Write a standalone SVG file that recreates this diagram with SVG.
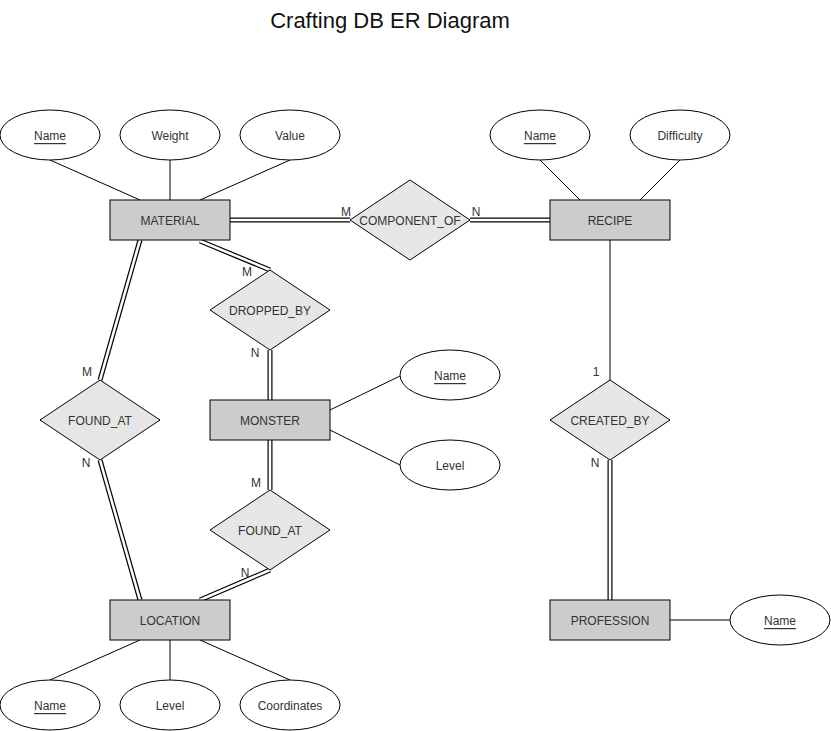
<svg xmlns="http://www.w3.org/2000/svg" width="831" height="731" viewBox="0 0 831 731">
<style>
text{font-family:"Liberation Sans",Arial,sans-serif;font-size:12px;fill:#333;text-anchor:middle;dominant-baseline:central;transform:translateY(1px)}
.ent{fill:#ccc;stroke:#000;stroke-width:1}
.rel{fill:#e6e6e6;stroke:#000;stroke-width:1}
.att{fill:#fff;stroke:#000;stroke-width:1}
.ln{fill:none;stroke:#000;stroke-width:1}
.dblo{fill:none;stroke:#000;stroke-width:5}
.dbli{fill:none;stroke:#fff;stroke-width:2.6}
.card{font-size:12px;fill:#333}
.key{text-decoration:underline}
.title{font-size:22px;fill:#111}
</style>
<rect width="831" height="731" fill="#fff"/>
<text class="title" x="390" y="19">Crafting DB ER Diagram</text>
<g id="connectors">
<line class="ln" x1="50" y1="160" x2="140" y2="200"/>
<line class="ln" x1="170" y1="160" x2="170" y2="200"/>
<line class="ln" x1="290" y1="160" x2="200" y2="200"/>
<line class="ln" x1="540" y1="160" x2="580" y2="200"/>
<line class="ln" x1="680" y1="160" x2="640" y2="200"/>
<line class="ln" x1="330" y1="410" x2="400" y2="376"/>
<line class="ln" x1="330" y1="430" x2="400" y2="465"/>
<line class="ln" x1="140" y1="640" x2="50" y2="680"/>
<line class="ln" x1="170" y1="640" x2="170" y2="680"/>
<line class="ln" x1="200" y1="640" x2="290" y2="680"/>
<line class="ln" x1="670" y1="620" x2="730" y2="620"/>
<line class="ln" x1="610" y1="240" x2="610" y2="380"/>
<g id="d1"><line class="dblo" x1="230" y1="220" x2="350" y2="220"/><line class="dbli" x1="230" y1="220" x2="350" y2="220"/></g>
<g id="d2"><line class="dblo" x1="470" y1="220" x2="550" y2="220"/><line class="dbli" x1="470" y1="220" x2="550" y2="220"/></g>
<g id="d3"><line class="dblo" x1="200" y1="241" x2="270" y2="270"/><line class="dbli" x1="200" y1="241" x2="270" y2="270"/></g>
<g id="d4"><line class="dblo" x1="270" y1="350" x2="270" y2="400"/><line class="dbli" x1="270" y1="350" x2="270" y2="400"/></g>
<g id="d5"><line class="dblo" x1="140" y1="240" x2="100" y2="380"/><line class="dbli" x1="140" y1="240" x2="100" y2="380"/></g>
<g id="d6"><line class="dblo" x1="100" y1="460" x2="140" y2="600"/><line class="dbli" x1="100" y1="460" x2="140" y2="600"/></g>
<g id="d7"><line class="dblo" x1="270" y1="440" x2="270" y2="490"/><line class="dbli" x1="270" y1="440" x2="270" y2="490"/></g>
<g id="d8"><line class="dblo" x1="270" y1="570" x2="200" y2="600"/><line class="dbli" x1="270" y1="570" x2="200" y2="600"/></g>
<g id="d9"><line class="dblo" x1="610" y1="460" x2="610" y2="600"/><line class="dbli" x1="610" y1="460" x2="610" y2="600"/></g>
<text class="card" x="346" y="211">M</text>
<text class="card" x="476" y="211">N</text>
<text class="card" x="247" y="271">M</text>
<text class="card" x="255" y="352">N</text>
<text class="card" x="87" y="371">M</text>
<text class="card" x="86" y="462">N</text>
<text class="card" x="256" y="482">M</text>
<text class="card" x="245" y="572">N</text>
<text class="card" x="596" y="371">1</text>
<text class="card" x="595" y="462">N</text>
</g>
<g id="material"><rect class="ent" x="110" y="200" width="120" height="40"/><text x="170" y="220">MATERIAL</text></g>
<g id="recipe"><rect class="ent" x="550" y="200" width="120" height="40"/><text x="610" y="220">RECIPE</text></g>
<g id="monster"><rect class="ent" x="210" y="400" width="120" height="40"/><text x="270" y="420">MONSTER</text></g>
<g id="location"><rect class="ent" x="110" y="600" width="120" height="40"/><text x="170" y="620">LOCATION</text></g>
<g id="profession"><rect class="ent" x="550" y="600" width="120" height="40"/><text x="610" y="620">PROFESSION</text></g>
<g id="component_of"><polygon class="rel" points="410,180 470,220 410,260 350,220"/><text x="410" y="220">COMPONENT_OF</text></g>
<g id="dropped_by"><polygon class="rel" points="270,270 330,310 270,350 210,310"/><text x="270" y="310">DROPPED_BY</text></g>
<g id="found_at_1"><polygon class="rel" points="100,380 160,420 100,460 40,420"/><text x="100" y="420">FOUND_AT</text></g>
<g id="found_at_2"><polygon class="rel" points="270,490 330,530 270,570 210,530"/><text x="270" y="530">FOUND_AT</text></g>
<g id="created_by"><polygon class="rel" points="610,380 670,420 610,460 550,420"/><text x="610" y="420">CREATED_BY</text></g>
<g id="material_name"><ellipse class="att" cx="50" cy="135" rx="50" ry="25"/><text class="key" x="50" y="135">Name</text></g>
<g id="material_weight"><ellipse class="att" cx="170" cy="135" rx="50" ry="25"/><text x="170" y="135">Weight</text></g>
<g id="material_value"><ellipse class="att" cx="290" cy="135" rx="50" ry="25"/><text x="290" y="135">Value</text></g>
<g id="recipe_name"><ellipse class="att" cx="540" cy="135" rx="50" ry="25"/><text class="key" x="540" y="135">Name</text></g>
<g id="recipe_difficulty"><ellipse class="att" cx="680" cy="135" rx="50" ry="25"/><text x="680" y="135">Difficulty</text></g>
<g id="monster_name"><ellipse class="att" cx="450" cy="375" rx="50" ry="25"/><text class="key" x="450" y="375">Name</text></g>
<g id="monster_level"><ellipse class="att" cx="450" cy="465" rx="50" ry="25"/><text x="450" y="465">Level</text></g>
<g id="location_name"><ellipse class="att" cx="50" cy="705" rx="50" ry="25"/><text class="key" x="50" y="705">Name</text></g>
<g id="location_level"><ellipse class="att" cx="170" cy="705" rx="50" ry="25"/><text x="170" y="705">Level</text></g>
<g id="location_coordinates"><ellipse class="att" cx="290" cy="705" rx="50" ry="25"/><text x="290" y="705">Coordinates</text></g>
<g id="profession_name"><ellipse class="att" cx="780" cy="620" rx="50" ry="25"/><text class="key" x="780" y="620">Name</text></g>
</svg>
